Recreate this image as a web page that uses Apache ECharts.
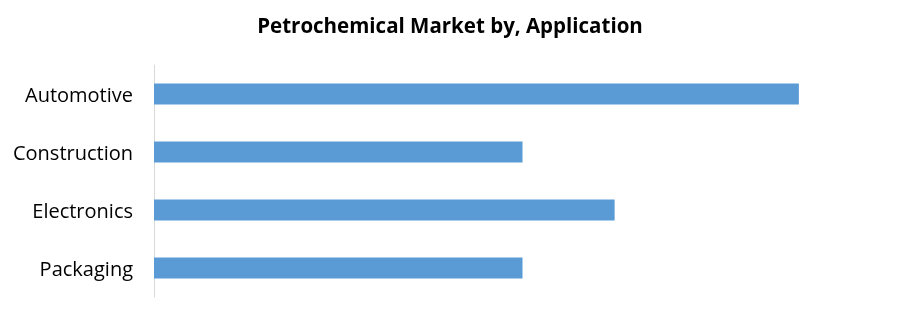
<!DOCTYPE html>
<html><head><meta charset="utf-8">
<script src="https://cdn.jsdelivr.net/npm/echarts@6/dist/echarts.min.js"></script>
<style>html,body{margin:0;padding:0;background:#fff}#c{width:900px;height:310px}</style>
</head><body><div id="c"></div>
<script>
const categories = ["Automotive", "Construction", "Electronics", "Packaging"];
const values = [35, 20, 25, 20];
const titleText = "Petrochemical Market by, Application";

const chart = echarts.init(document.getElementById('c'), null, {renderer: 'canvas'});
chart.setOption({
  animation: false,
  backgroundColor: '#ffffff',
  title: {
    text: titleText, left: 'center', top: 12,
    textStyle: {fontFamily: 'Open Sans', fontWeight: 'bold', fontSize: 20.5, color: '#000'}
  },
  grid: {left: 154, right: 9, top: 65, bottom: 13, containLabel: false},
  xAxis: {
    type: 'value', min: 0, max: 40,
    axisLine: {show: false}, axisTick: {show: false}, axisLabel: {show: false}, splitLine: {show: false}
  },
  yAxis: {
    type: 'category', data: categories, inverse: true,
    axisLine: {show: true, lineStyle: {color: '#d9d9d9', width: 1}},
    axisTick: {show: false},
    axisLabel: {
      fontFamily: 'Open Sans', fontSize: 20, color: '#000', margin: 21,
      formatter: function (v) { return '{a|' + v + '}'; },
      rich: {a: {fontFamily: 'Open Sans', fontSize: 20, color: '#000', padding: [5, 0, 0, 0]}}
    }
  },
  series: [{
    type: 'bar', data: values, barWidth: 21,
    itemStyle: {color: '#5b9bd5'}
  }]
});
</script></body></html>
